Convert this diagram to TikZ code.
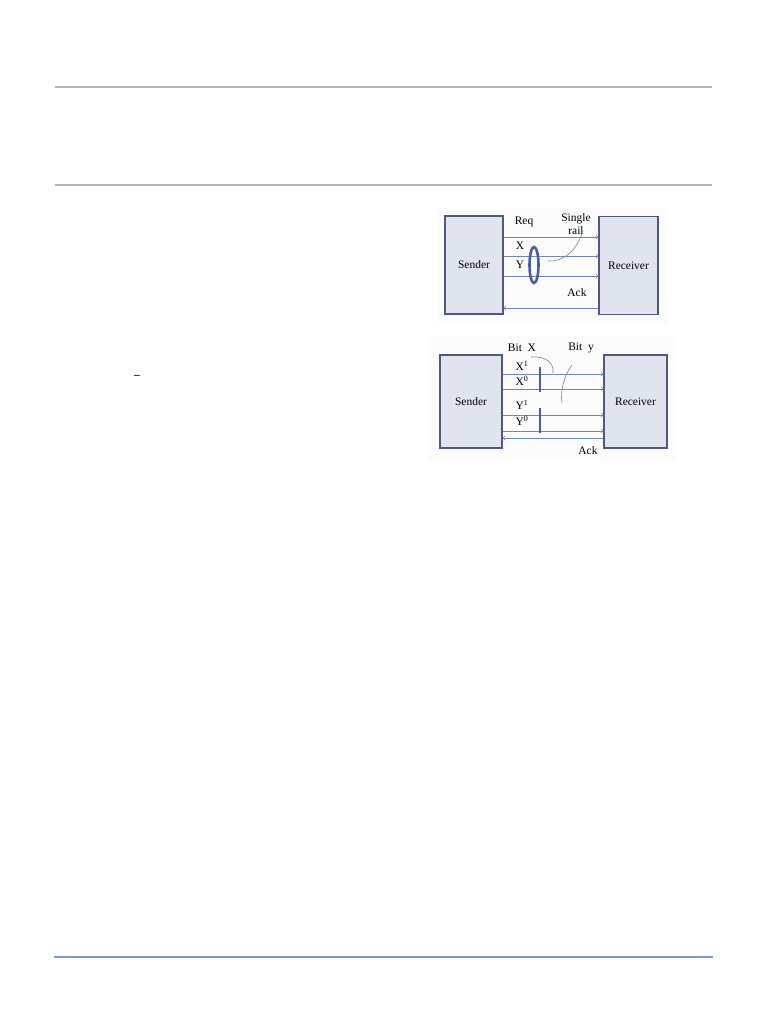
\documentclass[tikz,border=0pt]{standalone}
\usepackage{fontspec}
\setmainfont{Liberation Serif}
\usepackage{xcolor}
\usepackage{tikz}

\definecolor{boxfill}{HTML}{E0E4EE}
\definecolor{boxline}{HTML}{505A78}
\definecolor{wirecol}{HTML}{7486B0}
\definecolor{ringcol}{HTML}{4A5DA0}
\definecolor{rulecol}{HTML}{B4B4B4}
\definecolor{footcol}{HTML}{7B9BD0}

\begin{document}
\begin{tikzpicture}[
  x=1bp, y={(0bp,-1bp)},
  every node/.style={font=\fontsize{11.5}{13}\selectfont, inner sep=0pt},
  unit/.style={draw=boxline, line width=1.1bp, fill=boxfill},
  wire/.style={draw=wirecol, line width=0.7bp, ->},
  backwire/.style={draw=wirecol, line width=0.7bp, <-},
  pointer/.style={draw=wirecol, line width=0.6bp},
  rule/.style={draw=rulecol, line width=1.2bp}
  ]
  \useasboundingbox (0,0) rectangle (768,1024);
  \draw[rule] (55,87) -- (712,87);
  \draw[rule] (55,185) -- (712,185);
  \draw[draw=footcol, line width=1.5bp] (54,957) -- (713,957);
  \node (bar) at (137,377) {\bfseries --};

  % single rail
  \fill[gray!3] (437,208) rectangle (668,323);
  \node[unit, minimum width=58bp, minimum height=98bp] (s1) at (474,265) {Sender};
  \node[unit, minimum width=59bp, minimum height=98bp] (r1) at (628.5,265.5) {Receiver};
  \draw[wire] (s1.east |- 0,237) -- (r1.west |- 0,237);
  \draw[wire] (s1.east |- 0,256) -- (r1.west |- 0,256);
  \draw[wire] (s1.east |- 0,276) -- (r1.west |- 0,276);
  \draw[backwire] (s1.east |- 0,308) -- (r1.west |- 0,308);
  \node (req) at (524,222) {Req};
  \node (x1) at (520,246) {X};
  \node (y1) at (520,265) {Y};
  \node[align=center] (single) at (576,224) {Single\\rail};
  \node (ack1) at (577,293) {Ack};
  \draw[draw=ringcol, line width=2.6bp] (534,265) ellipse (4.5 and 18);
  \draw[pointer] (583,230) .. controls (577,252) and (562,262) .. (548,261);

  % dual rail
  \fill[gray!3] (428,337) rectangle (676,460);
  \node[unit, minimum width=62bp, minimum height=93bp] (s2) at (471,401.5) {Sender};
  \node[unit, minimum width=63bp, minimum height=93bp] (r2) at (635.5,401.5) {Receiver};
  \foreach \yy in {374,389,415,431}
    \draw[wire] (s2.east |- 0,\yy) -- (r2.west |- 0,\yy);
  \draw[backwire] (s2.east |- 0,438) -- (r2.west |- 0,438);
  \draw[draw=ringcol, line width=1.5bp] (540,367) -- (540,392);
  \draw[draw=ringcol, line width=1.5bp] (540,408) -- (540,433);
  \node (bitx) at (522,348) {Bit\ \ X};
  \node (bity) at (581,348) {Bit\ \ y};
  \node (xa) at (522,366) {X\textsuperscript{1}};
  \node (xb) at (522,381) {X\textsuperscript{0}};
  \node (ya) at (522,405) {Y\textsuperscript{1}};
  \node (yb) at (522,421) {Y\textsuperscript{0}};
  \node (ack2) at (588,451) {Ack};
  \draw[pointer] (531,357) .. controls (548,356) and (554,364) .. (553,373);
  \draw[pointer] (572,365) .. controls (564,375) and (560,392) .. (562,403);
\end{tikzpicture}
\end{document}
